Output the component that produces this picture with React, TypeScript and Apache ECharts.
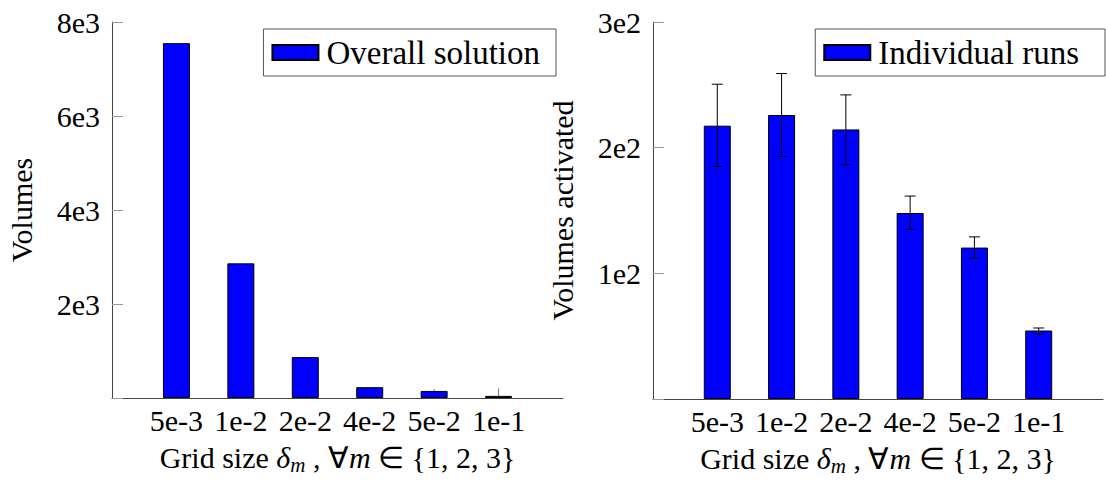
import React, { useEffect, useRef } from "react";
import * as echarts from "echarts";

const categories = ["5e-3", "1e-2", "2e-2", "4e-2", "5e-2", "1e-1"];
const overallVolumes = [7550, 2865, 870, 230, 150, 45];
const overallErrHigh = [null, null, null, null, 190, 205];
const runVolumes = [217.5, 226, 214.5, 148, 120.5, 54.5];
const runErrLow = [185, 193, 186.5, 135, 112, 51.5];
const runErrHigh = [250.5, 259, 242, 161.5, 129, 56.5];
const leftTickLabels = ["", "2e3", "4e3", "6e3", "8e3"];
const rightTickLabels = ["", "1e2", "2e2", "3e2"];
const leftLegend = "Overall solution";
const rightLegend = "Individual runs";
const leftYName = "Volumes";
const rightYName = "Volumes activated";

const FONT = "'Liberation Serif', 'Times New Roman', serif";

export default function App() {
  const ref = useRef<HTMLDivElement>(null);
  useEffect(() => {
    const chart = echarts.init(ref.current!, null, { renderer: "svg" });
    const axisData = ["", ...categories, ""];
    const xName = "Grid size {i|δ}{sub|m} , ∀{i|m} ∈ {1, 2, 3}";
    const nameStyle: any = {
      fontFamily: FONT,
      fontSize: 30,
      color: "#000",
    };
    const xAxisCommon = (gridIndex: number) => ({
      type: "category",
      gridIndex,
      data: axisData,
      boundaryGap: false,
      axisLine: { lineStyle: { color: "#444", width: 1 } },
      axisTick: { show: false },
      axisLabel: {
        interval: 0,
        fontFamily: FONT,
        fontSize: 30,
        color: "#000",
        margin: 7,
      },
      name: xName,
      nameLocation: "middle",
      nameGap: 41,
      nameTextStyle: {
        ...nameStyle,
        lineHeight: 36,
        rich: {
          i: { fontFamily: FONT, fontSize: 30, fontStyle: "italic", color: "#000", lineHeight: 36 },
          sub: { fontFamily: FONT, fontSize: 21, fontStyle: "italic", color: "#000", lineHeight: 21, verticalAlign: "bottom" },
        },
      },
      splitLine: { show: false },
    });
    const yAxisCommon = (gridIndex: number, max: number, interval: number, labels: string[], name: string, nameGap: number) => ({
      type: "value",
      gridIndex,
      min: 0,
      max,
      interval,
      axisLine: { show: true, lineStyle: { color: "#444", width: 1 } },
      axisTick: { show: true, inside: true, length: 11, lineStyle: { color: "#999" } },
      axisLabel: {
        fontFamily: FONT,
        fontSize: 30,
        color: "#000",
        margin: 12,
        formatter: (_v: number, idx: number) => labels[idx] ?? "",
      },
      splitLine: { show: false },
      name,
      nameLocation: "middle",
      nameGap,
      nameTextStyle: nameStyle,
    });
    const barStyle = { color: "#0000ff", borderColor: "#000", borderWidth: 1 };
    const errRender = (capHalf: number, color: string) => (params: any, api: any) => {
      const x = api.value(0);
      const lo = api.value(1);
      const hi = api.value(2);
      const pLo = api.coord([x, lo]);
      const pHi = api.coord([x, hi]);
      const children: any[] = [
        { type: "line", shape: { x1: pLo[0], y1: pLo[1], x2: pHi[0], y2: pHi[1] }, style: { stroke: color, lineWidth: 1 } },
      ];
      if (capHalf > 0) {
        children.push(
          { type: "line", shape: { x1: pLo[0] - capHalf, y1: pLo[1], x2: pLo[0] + capHalf, y2: pLo[1] }, style: { stroke: color, lineWidth: 1 } },
          { type: "line", shape: { x1: pHi[0] - capHalf, y1: pHi[1], x2: pHi[0] + capHalf, y2: pHi[1] }, style: { stroke: color, lineWidth: 1 } }
        );
      }
      return { type: "group", children };
    };
    const legendCommon = {
      orient: "horizontal",
      top: 29,
      icon: "rect",
      itemWidth: 46,
      itemHeight: 15,
      itemGap: 0,
      borderColor: "#555",
      borderWidth: 1,
      backgroundColor: "#fff",
      textStyle: { fontFamily: FONT, fontSize: 33, color: "#000", padding: [0, 0, 0, 3] },
      selectedMode: false,
    };
    const option: any = {
      animation: false,
      backgroundColor: "#fff",
      textStyle: { fontFamily: FONT },
      grid: [
        { left: 112, width: 451, top: 22, bottom: 89 },
        { left: 653, width: 453, top: 22, bottom: 88 },
      ],
      legend: [
        { ...legendCommon, data: [leftLegend], right: 550, padding: [7, 16, 7, 8] },
        { ...legendCommon, data: [rightLegend], right: 1, padding: [7, 26, 7, 8] },
      ],
      xAxis: [xAxisCommon(0), xAxisCommon(1)],
      yAxis: [
        yAxisCommon(0, 8000, 2000, leftTickLabels, leftYName, 76),
        yAxisCommon(1, 300, 100, rightTickLabels, rightYName, 76),
      ],
      series: [
        {
          type: "bar",
          name: leftLegend,
          xAxisIndex: 0,
          yAxisIndex: 0,
          barWidth: 27,
          itemStyle: barStyle,
          data: overallVolumes.map((v, i) => [i + 1, v]),
        },
        {
          type: "custom",
          xAxisIndex: 0,
          yAxisIndex: 0,
          z: 5,
          renderItem: errRender(0, "#777"),
          encode: { x: 0, y: [1, 2] },
          data: overallVolumes
            .map((v, i) => (overallErrHigh[i] == null ? null : [i + 1, v, overallErrHigh[i]]))
            .filter((d) => d !== null),
        },
        {
          type: "bar",
          name: rightLegend,
          xAxisIndex: 1,
          yAxisIndex: 1,
          barWidth: 27,
          itemStyle: barStyle,
          data: runVolumes.map((v, i) => [i + 1, v]),
        },
        {
          type: "custom",
          xAxisIndex: 1,
          yAxisIndex: 1,
          z: 5,
          renderItem: errRender(5.5, "#000"),
          encode: { x: 0, y: [1, 2] },
          data: runVolumes.map((_v, i) => [i + 1, runErrLow[i], runErrHigh[i]]),
        },
      ],
    };
    chart.setOption(option);
    return () => chart.dispose();
  }, []);
  return (
    <div
      ref={ref}
      style={{ position: "fixed", left: 0, top: 0, width: 1106, height: 487, background: "#fff" }}
    />
  );
}
